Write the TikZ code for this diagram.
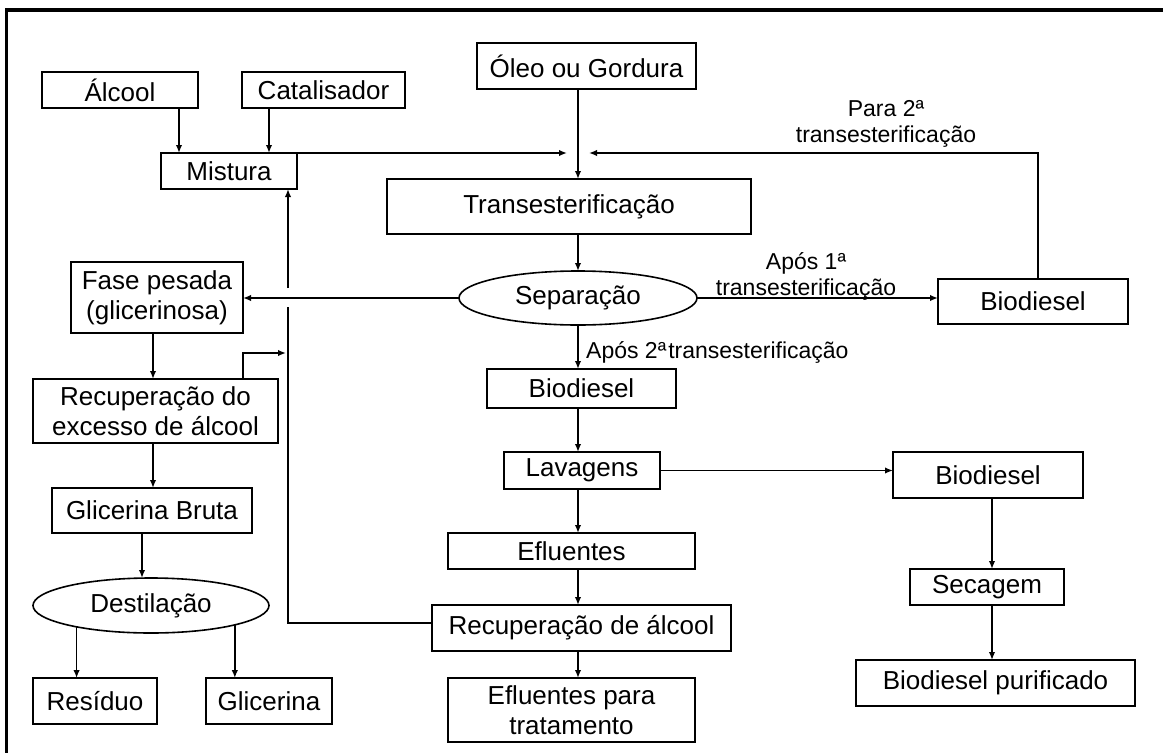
\documentclass[tikz,border=0pt]{standalone}
\usepackage{fontspec}
\setmainfont{Liberation Sans}
\usetikzlibrary{arrows.meta,shapes.geometric}
\begin{document}
\begin{tikzpicture}[x=1pt,y=-1pt,
  box/.style={draw,line width=1.6pt,inner sep=0pt,outer sep=0pt,align=center,font=\fontsize{26}{30}\selectfont},
  oval/.style={draw,ellipse,line width=1.6pt,inner sep=0pt,outer sep=0pt,font=\fontsize{26}{30}\selectfont},
  arr/.style={line width=1.6pt,-{Latex[length=8pt,width=6.5pt]}},
  ln/.style={line width=1.6pt},
  lbl/.style={align=center,inner sep=0pt,font=\fontsize{23}{26}\selectfont}]
\useasboundingbox (0,0) rectangle (1163,753);
\draw[line width=3.5pt] (6.5,760) -- (6.5,10) -- (1170,10);

% nodes
\node[box,minimum width=156,minimum height=36] (alcool) at (120,90) {Álcool};
\node[box,minimum width=163,minimum height=36] (catal) at (323.5,90) {Catalisador};
\node[box,minimum width=219,minimum height=46] (oleo) at (586.5,66) {Óleo ou Gordura};
\node[box,minimum width=136,minimum height=36] (mist) at (229,171) {Mistura};
\node[box,minimum width=364,minimum height=55] (trans) at (569,206.5) {Transesterificação};
\node[oval,minimum width=238,minimum height=54] (sep) at (578,298) {Separação};
\node[box,minimum width=172,minimum height=71] (fase) at (157,297.5) {Fase pesada\\(glicerinosa)};
\node[box,minimum width=190,minimum height=45] (bior) at (1033,301.5) {Biodiesel};
\node[box,minimum width=189,minimum height=39] (biom) at (581.5,388.5) {Biodiesel};
\node[box,minimum width=156,minimum height=37] (lav) at (582,470.5) {Lavagens};
\node[box,minimum width=247,minimum height=36] (eflu) at (571.5,551) {Efluentes};
\node[box,minimum width=299,minimum height=46] (recalc) at (581.5,628) {Recuperação de álcool};
\node[box,minimum width=247,minimum height=64] (eftrat) at (571.5,710) {Efluentes para\\tratamento};
\node[box,minimum width=245,minimum height=64] (recexc) at (155.5,411) {Recuperação do\\excesso de álcool};
\node[box,minimum width=200,minimum height=45] (glibr) at (152,510.5) {Glicerina Bruta};
\node[oval,minimum width=236,minimum height=55] (dest) at (151,605.5) {Destilação};
\node[box,minimum width=124,minimum height=46] (res) at (95,701) {Resíduo};
\node[box,minimum width=126,minimum height=46] (gli) at (269,701) {Glicerina};
\node[box,minimum width=190,minimum height=46] (biorl) at (988,475) {Biodiesel};
\node[box,minimum width=154,minimum height=36] (sec) at (987,587) {Secagem};
\node[box,minimum width=279,minimum height=46] (biopur) at (995.5,683) {Biodiesel purificado};

% labels
\node[lbl] (l1) at (806,276) {Após 1ª\\transesterificação};
\node[lbl] (l2) at (886,123.5) {Para 2ª\\transesterificação};
\node[lbl,anchor=west] (l3) at (586,352) {Após 2ª\hspace{2pt}transesterificação};

% coordinates
\coordinate (ax) at ([xshift=59]alcool.south);
\coordinate (cx) at ([xshift=-54.5]catal.south);
\coordinate (jl) at (567,153);
\coordinate (jr) at (589,153);
\coordinate (br) at ([xshift=5]bior.north);
\coordinate (sx) at ([xshift=4]biorl.south);
\coordinate (rx) at ([xshift=59]mist.south);
\coordinate (rw) at ([yshift=5]recalc.west);
\coordinate (gl) at (288,307);
\coordinate (gh) at (288,288);
\coordinate (fx) at ([xshift=-4]fase.south);
\coordinate (ex) at ([xshift=87.5]recexc.north);
\coordinate (ej) at (286,353);
\coordinate (gx) at ([xshift=-10]glibr.south);

% connectors
\draw[arr] (ax) -- (ax |- mist.north);
\draw[arr] (cx) -- (cx |- mist.north);
\draw[arr] (mist.north east) -- (jl);
\draw[arr] (br) -- (br |- jr) -- (jr);
\draw[arr] (oleo.south -| sep) -- (trans.north -| sep);
\draw[arr] (trans.south -| sep) -- (sep.north);
\draw[arr] (sep.west) -- (sep.west -| fase.east);
\draw[arr] (sep.east) -- (sep.east -| bior.west);
\draw[arr] (sep.south) -- (biom.north -| sep);
\draw[arr] (biom.south -| sep) -- (lav.north -| sep);
\draw[arr] (lav.south -| sep) -- (eflu.north -| sep);
\draw[arr] (eflu.south -| sep) -- (recalc.north -| sep);
\draw[arr] (recalc.south -| sep) -- (eftrat.north -| sep);
\draw[arr] (lav.east) -- (lav.east -| biorl.west);
\draw[arr] (sx) -- (sx |- sec.north);
\draw[arr] (sec.south -| sx) -- (sx |- biopur.north);
\draw[ln] (rw) -- (rw -| rx) -- (gl);
\draw[arr] (gh) -- (rx);
\draw[arr] (fx) -- (fx |- recexc.north);
\draw[arr] (recexc.south -| fx) -- (fx |- glibr.north);
\draw[arr] (ex) -- (ex |- ej) -- (ej);
\draw[arr] (gx) -- (gx |- dest.north);
\draw[arr] (dest.196.5) -- (dest.196.5 |- res.north);
\draw[arr] (dest.-13.6) -- (dest.-13.6 |- gli.north);
\end{tikzpicture}
\end{document}
